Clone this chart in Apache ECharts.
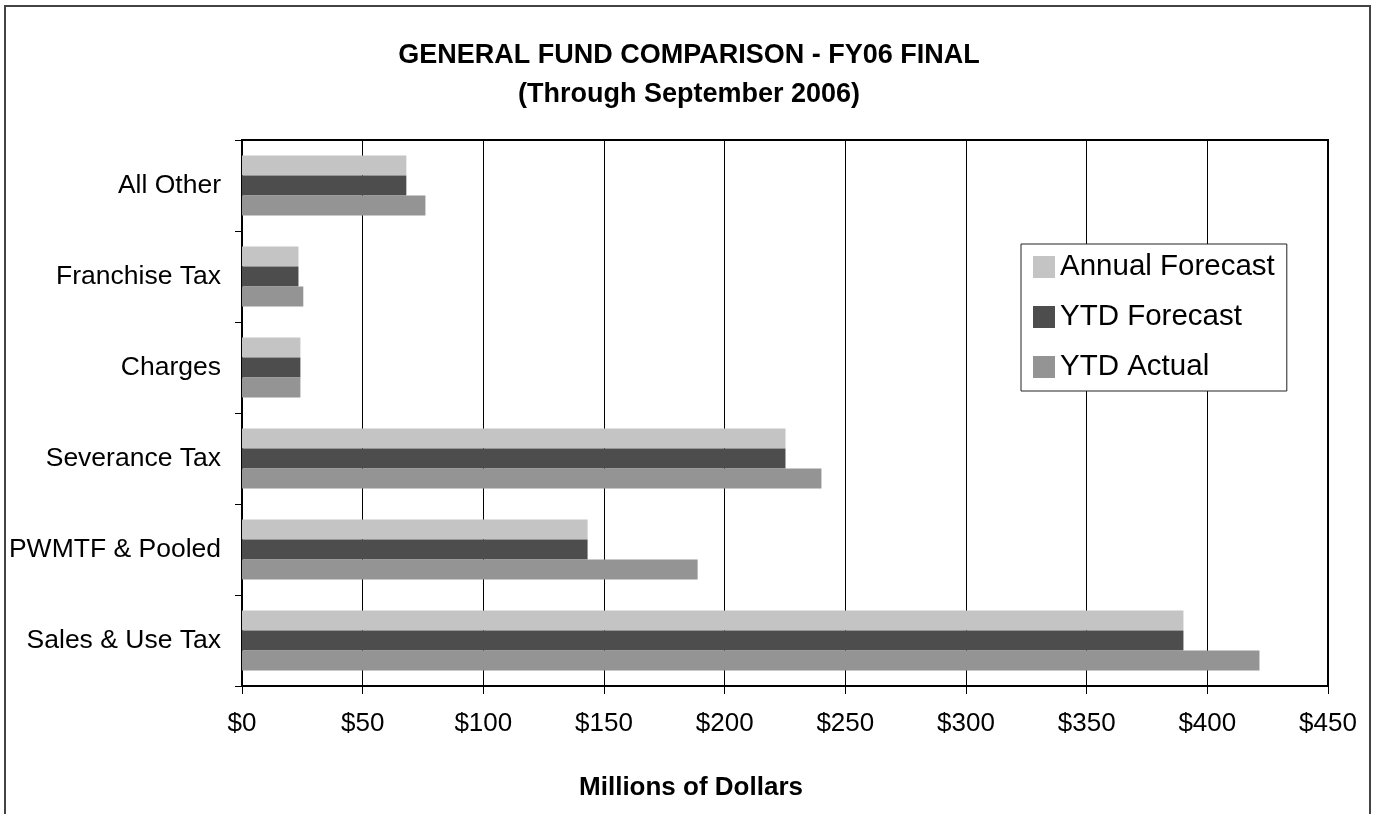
<!DOCTYPE html>
<html>
<head>
<meta charset="utf-8">
<title>General Fund Comparison - FY06 Final</title>
<script src="https://cdn.jsdelivr.net/npm/echarts@6/dist/echarts.min.js"></script>
<style>
    html, body { margin: 0; padding: 0; background: #fff; }
    #chart { width: 1378px; height: 814px; }
</style>
</head>
<body>
<div id="chart"></div>
<script>
// categories listed bottom to top (ECharts puts the first y category at the bottom)
const categories = ['Sales & Use Tax', 'PWMTF & Pooled', 'Severance Tax', 'Charges', 'Franchise Tax', 'All Other'];
const seriesNames = ['Annual Forecast', 'YTD Forecast', 'YTD Actual'];
const annualForecast = [390.1, 143.2, 225.2, 24.2, 23.4, 68.1];
const ytdForecast = [390.1, 143.2, 225.2, 24.2, 23.4, 68.1];
const ytdActual = [421.6, 188.8, 240.1, 24.2, 25.4, 76.0];
const xTicks = [0, 50, 100, 150, 200, 250, 300, 350, 400, 450];

const FONT = '"Liberation Sans", Arial, sans-serif';
const colors = ['#c4c4c4', '#4d4d4d', '#949494'];

const chart = echarts.init(document.getElementById('chart'), null, { renderer: 'canvas' });

const buildSeries = () => {
    const values = [annualForecast, ytdForecast, ytdActual];
    return seriesNames.map((name, i) => ({
        name,
        type: 'bar',
        barWidth: 20,
        barGap: '0%',
        itemStyle: { color: colors[i] },
        emphasis: { disabled: true },
        data: values[i]
    }));
};

chart.setOption({
    animation: false,
    backgroundColor: '#fff',
    title: {
        text: 'GENERAL FUND COMPARISON - FY06 FINAL\n(Through September 2006)',
        left: 'center',
        top: 31,
        textStyle: {
            fontFamily: FONT,
            fontSize: 27,
            fontWeight: 'bold',
            color: '#000',
            lineHeight: 39
        }
    },
    legend: {
        orient: 'vertical',
        left: 1021,
        top: 244,
        data: seriesNames,
        icon: 'rect',
        itemWidth: 22,
        itemHeight: 22,
        itemGap: 20,
        padding: [8, 12, 9, 12],
        backgroundColor: '#fff',
        borderColor: '#222',
        borderWidth: 1,
        borderRadius: 0,
        textStyle: {
            fontFamily: FONT,
            fontSize: 29.5,
            lineHeight: 29,
            color: '#000'
        }
    },
    grid: {
        left: 242,
        right: 50,
        top: 140,
        bottom: 128,
        show: true,
        backgroundColor: '#fff',
        borderColor: '#000',
        borderWidth: 2
    },
    xAxis: {
        type: 'value',
        min: xTicks[0],
        max: xTicks[xTicks.length - 1],
        interval: xTicks[1] - xTicks[0],
        axisLine: { show: true, lineStyle: { color: '#000', width: 2 } },
        axisTick: { show: true, length: 8, lineStyle: { color: '#000', width: 1 } },
        splitLine: { show: true, lineStyle: { color: '#000', width: 1 } },
        axisLabel: {
            margin: 25,
            fontFamily: FONT,
            fontSize: 26,
            color: '#000',
            formatter: (v) => '$' + v
        }
    },
    yAxis: {
        type: 'category',
        data: categories,
        axisLine: { show: true, lineStyle: { color: '#000', width: 2 } },
        axisTick: { show: true, length: 7, lineStyle: { color: '#000', width: 1 } },
        axisLabel: {
            margin: 21,
            fontFamily: FONT,
            fontSize: 26.5,
            color: '#000'
        }
    },
    graphic: [
        {
            type: 'rect',
            silent: true,
            z: 100,
            shape: { x: 5, y: 6, width: 1365, height: 900 },
            style: { fill: null, stroke: '#444', lineWidth: 2 }
        },
        {
            type: 'text',
            silent: true,
            x: 691,
            y: 788,
            style: {
                text: 'Millions of Dollars',
                fontFamily: FONT,
                fontSize: 26,
                fontWeight: 'bold',
                fill: '#000',
                align: 'center',
                verticalAlign: 'middle'
            }
        }
    ],
    series: buildSeries()
});
</script>
</body>
</html>
